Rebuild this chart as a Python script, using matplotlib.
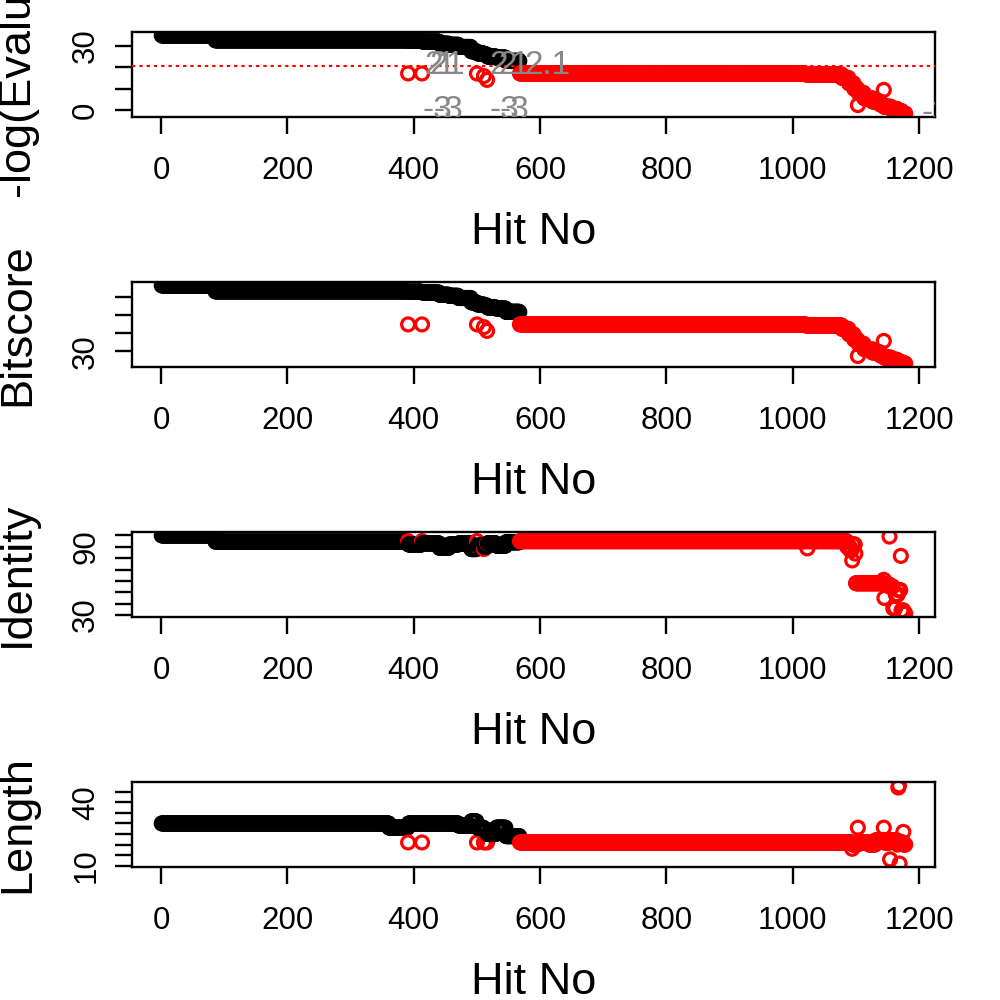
import numpy as np
import matplotlib.pyplot as plt

plt.rcParams['font.family'] = ['Liberation Sans', 'DejaVu Sans']

n_hits = 1178
hit_no = np.arange(1, n_hits + 1)

# hits drawn in red (E-value worse than the cutoff)
red_hits = [391, 413, 500, 511, 516]
red_from = 568

# run-length values: each value holds up to the hit number in *_ends
score_ends = [85, 390, 391, 412, 413, 440, 455, 470, 490, 499, 500, 510, 511, 515, 516, 530, 545, 567,
              1020, 1077, 1088, 1096, 1102, 1103, 1112, 1125, 1138, 1143, 1144, 1155, 1165, 1172, 1178]
evalue_vals = [34.9, 32.6, 17.1, 32.4, 17.1, 32.0, 31.0, 30.5, 29.5, 27.5, 17.1, 26.5, 15.9, 26.0, 14.1, 25.0, 24.5, 23.0,
               17.1, 16.6, 15.0, 12.5, 10.0, 2.3, 8.0, 5.5, 4.0, 2.5, 9.4, 1.5, 0.5, -0.5, -1.67]
bits_vals = [66.7, 63.4, 45.0, 63.2, 45.0, 62.7, 61.5, 60.9, 59.7, 57.3, 45.0, 56.1, 43.5, 55.6, 41.4, 54.4, 53.8, 52.0,
             45.0, 44.4, 42.5, 39.5, 36.6, 27.4, 34.2, 31.2, 29.4, 27.7, 35.8, 26.5, 25.3, 24.1, 23.2]

ident_ends = [85, 390, 391, 412, 413, 440, 455, 470, 490, 499, 500, 510, 511, 515, 516, 530, 545, 567,
              1022, 1023, 1085, 1090, 1093, 1094, 1098, 1099, 1143, 1144, 1145, 1152, 1153, 1158, 1162,
              1166, 1170, 1171, 1175, 1178]
ident_vals = [100, 94.5, 95, 92, 95, 93, 89, 92, 93, 88, 95, 91, 88, 90, 93, 93, 91, 94,
              95, 88.6, 95, 90, 87, 78, 92, 84, 58, 61, 45, 57, 99, 55, 36,
              48, 52, 82, 34, 31.3]

len_ends = [360, 390, 391, 412, 413, 470, 490, 499, 500, 510, 511, 515, 516, 530, 545, 567,
            1093, 1094, 1102, 1103, 1120, 1130, 1143, 1144, 1153, 1154, 1165, 1166, 1167, 1168,
            1169, 1174, 1175, 1178]
len_vals = [30, 28, 21, 30, 21, 30, 29, 31, 21, 28, 21, 27, 21, 25, 28, 24,
            21, 18, 20, 28, 21, 20, 22, 28, 21, 13, 22, 20, 47, 48,
            11, 21, 26, 20]

# grey labels written over the E-value panel
note_x = [431, 440, 451, 465, 535, 549, 568, 612, 437, 454, 543, 560, 1227]
note_y = [21.0, 21.0, 21.0, 21.0, 21.0, 21.0, 21.0, 21.0, 0, 0, 0, 0, -1.5]
note_txt = ["2", "2", "1", "1", "2", "2", "1", "2.1", "-3", "-3", "-3", "-3", "-3"]

cutoff = 20.72

x_ticks = [0, 200, 400, 600, 800, 1000, 1200]
ev_ticks = [0, 10, 20, 30]
ev_ticklabels = ["0", "", "", "30"]
bits_ticks = [30, 40, 50, 60]
bits_ticklabels = ["30", "", "", ""]
ident_ticks = [30, 40, 50, 60, 70, 80, 90, 100]
ident_ticklabels = ["30", "", "", "", "", "", "90", ""]
len_ticks = [10, 15, 20, 25, 30, 35, 40, 45]
len_ticklabels = ["10", "", "", "", "", "", "40", ""]


def runs(ends, vals):
    counts = np.diff([0] + list(ends))
    return np.repeat(vals, counts)


is_red = np.isin(hit_no, red_hits) | (hit_no >= red_from)
colors = np.where(is_red, "red", "black")

panels = [
    ("-log(Evalue)", runs(score_ends, evalue_vals), ev_ticks, ev_ticklabels),
    ("Bitscore", runs(score_ends, bits_vals), bits_ticks, bits_ticklabels),
    ("Identity", runs(ident_ends, ident_vals), ident_ticks, ident_ticklabels),
    ("Length", runs(len_ends, len_vals), len_ticks, len_ticklabels),
]

fig = plt.figure(figsize=(10, 10), dpi=100)

left, right = 0.132, 0.935
box_h = 0.0844
lw = 1.7

xpad = 0.04 * (n_hits - 1)
xlim = (1 - xpad, n_hits + xpad)

for i, (ylab, yv, yt, ytl) in enumerate(panels):
    bottom = 1 - 0.1167 - 0.25 * i
    ax = fig.add_axes([left, bottom, right - left, box_h])
    ax.scatter(hit_no, yv, s=9.3 ** 2, facecolors="none", edgecolors=colors, linewidths=2.3, zorder=2)

    lo, hi = yv.min(), yv.max()
    pad = 0.04 * (hi - lo)
    ax.set_ylim(lo - pad, hi + pad)
    ax.set_xlim(*xlim)

    ax.set_xticks(x_ticks)
    ax.set_xticklabels([str(t) for t in x_ticks])
    ax.set_yticks(yt)
    ax.set_yticklabels(ytl)
    ax.tick_params(axis="both", direction="out", length=12.2, width=lw, labelsize=22.5)
    ax.tick_params(axis="x", pad=16)
    ax.tick_params(axis="y", pad=10, labelrotation=90)
    for lbl in ax.get_yticklabels():
        lbl.set_va("center")
    for sp in ax.spines.values():
        sp.set_linewidth(lw)

    if i == 0:
        ax.axhline(cutoff, color="red", lw=1.5, ls=(0, (1.6, 1.9)), zorder=3)
        for tx, ty, tt in zip(note_x, note_y, note_txt):
            ax.text(tx, ty, tt, color="#888888", fontsize=24, ha="center", va="center",
                    clip_on=True, zorder=4)

    fig.text(0.5335, 1 - 0.2435 - 0.25 * i, "Hit No", fontsize=32.5, ha="center", va="baseline")
    fig.text(0.029, bottom + box_h / 2, ylab, fontsize=32.5, rotation=90,
             rotation_mode="anchor", ha="center", va="baseline")

fig.savefig("out.png", dpi=100)
